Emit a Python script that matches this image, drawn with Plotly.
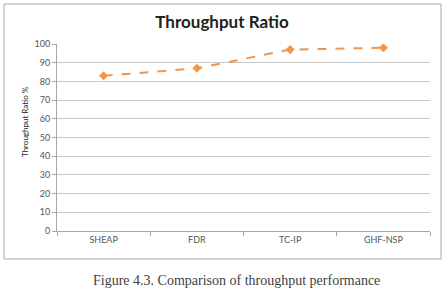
import plotly.graph_objects as go

categories = ["SHEAP", "FDR", "TC-IP", "GHF-NSP"]
throughput = [83, 87, 97, 98]
y_ticks = [0, 10, 20, 30, 40, 50, 60, 70, 80, 90, 100]

W, H = 447, 288
L, R, T, B = 57, 17, 44, 57
pw, ph = W - L - R, H - T - B

def px(x):
    return (x - L) / pw

def py(y):
    return (H - B - y) / ph

fig = go.Figure()
fig.add_trace(go.Scatter(
    x=categories, y=throughput, mode="lines+markers",
    line=dict(color="#F2964C", width=2, dash="dash"),
    marker=dict(symbol="diamond", size=7, color="#F2964C"),
    showlegend=False,
))

fig.update_layout(
    width=W, height=H,
    margin=dict(l=L, r=R, t=T, b=B),
    paper_bgcolor="white", plot_bgcolor="white",
    font=dict(family="Lato, Open Sans, sans-serif", color="#404040", size=9),
    title=dict(text="<b>Throughput Ratio</b>", xref="paper", x=px(222), xanchor="center",
               y=1 - 22 / H, yanchor="middle",
               font=dict(size=17, color="#222222", family="Lato, Open Sans, sans-serif")),
    xaxis=dict(type="category", range=[-0.5, 3.5], tickson="boundaries",
               ticks="outside", ticklen=4, tickcolor="#A8A8A8",
               showline=True, linecolor="#A8A8A8", linewidth=1,
               showgrid=False, tickfont=dict(size=9, color="#555555")),
    yaxis=dict(range=[0, 100], tickvals=y_ticks, ticks="outside", ticklen=4,
               tickcolor="#A8A8A8", showline=True, linecolor="#A8A8A8",
               showgrid=True, gridcolor="#C8C8C8", gridwidth=1, zeroline=False,
               tickfont=dict(size=9, color="#555555")),
    shapes=[dict(type="rect", xref="paper", yref="paper",
                 x0=px(4), x1=px(441), y0=py(259), y1=py(4),
                 line=dict(color="#A8A8A8", width=1), layer="below")],
    annotations=[
        dict(text="Figure 4.3. Comparison of throughput performance",
             xref="paper", yref="paper", x=px(236), y=py(280),
             xanchor="center", yanchor="middle", showarrow=False,
             font=dict(family="Liberation Serif, serif", size=14, color="#404040")),
        dict(text="Throughput Ratio %", textangle=-90,
             xref="paper", yref="paper", x=px(25), y=py(122),
             xanchor="center", yanchor="middle", showarrow=False,
             font=dict(size=8, color="#202020")),
    ],
)

fig.write_html("out.html")
